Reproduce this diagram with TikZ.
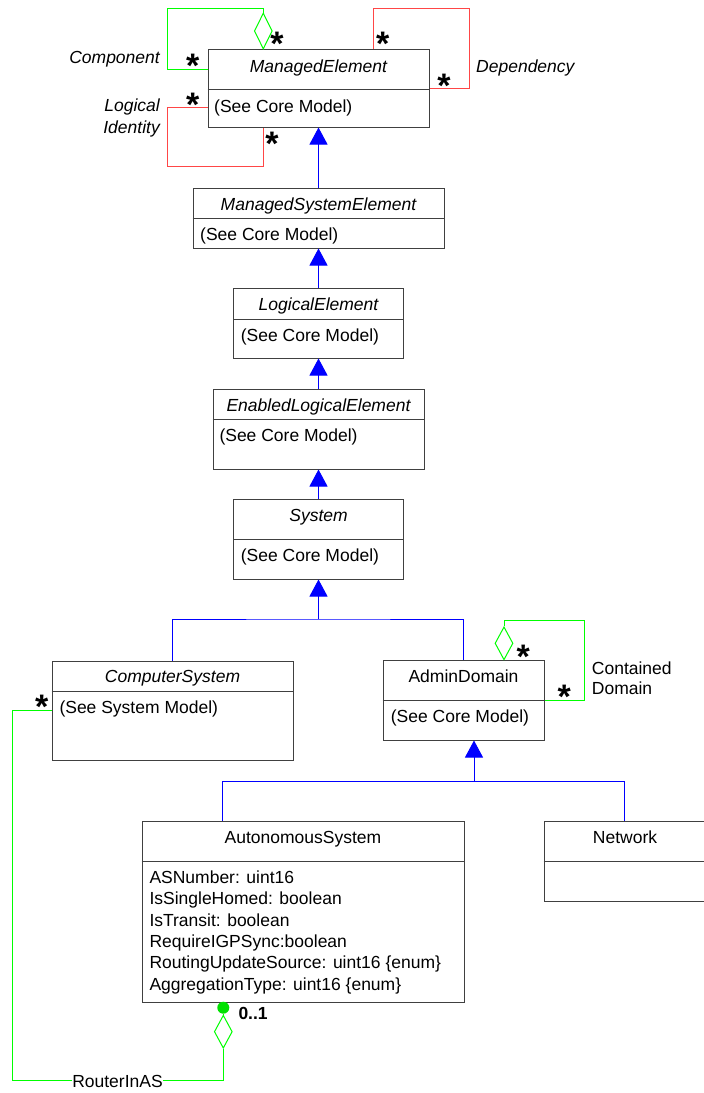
\documentclass[tikz,border=0pt]{standalone}
\usepackage{fontspec}
\setmainfont{Liberation Sans}
\usetikzlibrary{arrows.meta,shapes.geometric}
\definecolor{umlgreen}{RGB}{0,255,0}
\definecolor{umldot}{RGB}{0,225,0}
\definecolor{umlred}{RGB}{255,70,70}
\newcommand{\manystar}{\raisebox{-13.3pt}[11pt][0pt]{*}}

\begin{document}
\begin{tikzpicture}[x=1pt,y=-1pt,
  font=\fontsize{17.5}{21.3}\selectfont,
  cls/.style={draw=black!75,line width=1pt,inner sep=0pt},
  txt/.style={inner sep=0pt,anchor=base},
  attr/.style={inner sep=0pt,anchor=base west},
  mult/.style={inner sep=0pt,anchor=center,font=\bfseries\fontsize{34}{34}\selectfont},
  gen/.style={draw=blue,line width=1pt},
  genarrow/.style={gen,-{Triangle[width=18pt,length=17pt]},fill=blue},
  agg/.style={diamond,draw=umlgreen,line width=1pt,minimum width=18pt,inner sep=0pt},
  dot/.style={circle,fill=umldot,inner sep=0pt,minimum size=12pt},
  compline/.style={draw=umlgreen,line width=1pt},
  depline/.style={draw=umlred,line width=1pt}]
\useasboundingbox (0,0) rectangle (704,1093);

\node[cls,minimum width=221pt,minimum height=78pt] (me) at (318.5,88) {};
\draw[cls] (me.west |- 0,89) -- (me.east |- 0,89);
\node[txt] (me-name) at (318.5,72.7) {\itshape ManagedElement};
\node[attr] (me-attr) at (214,112) {(See Core Model)};

\node[cls,minimum width=251pt,minimum height=60pt] (mse) at (318.5,218) {};
\draw[cls] (mse.west |- 0,218) -- (mse.east |- 0,218);
\node[txt] (mse-name) at (318.5,210) {\itshape ManagedSystemElement};
\node[attr] (mse-attr) at (200,240) {(See Core Model)};

\node[cls,minimum width=170pt,minimum height=70pt] (le) at (318.5,323) {};
\draw[cls] (le.west |- 0,319) -- (le.east |- 0,319);
\node[txt] (le-name) at (318.5,310.7) {\itshape LogicalElement};
\node[attr] (le-attr) at (240.7,341) {(See Core Model)};

\node[cls,minimum width=211pt,minimum height=80pt] (ele) at (318.5,429) {};
\draw[cls] (ele.west |- 0,419) -- (ele.east |- 0,419);
\node[txt] (ele-name) at (318.5,411.7) {\itshape EnabledLogicalElement};
\node[attr] (ele-attr) at (219.3,441.7) {(See Core Model)};

\node[cls,minimum width=170pt,minimum height=80pt] (sys) at (318.5,539) {};
\draw[cls] (sys.west |- 0,539) -- (sys.east |- 0,539);
\node[txt] (sys-name) at (318.5,521.7) {\itshape System};
\node[attr] (sys-attr) at (240.7,561.7) {(See Core Model)};

\node[cls,minimum width=241pt,minimum height=99pt] (cs) at (172.5,710.5) {};
\draw[cls] (cs.west |- 0,691) -- (cs.east |- 0,691);
\node[txt] (cs-name) at (172.5,682.7) {\itshape ComputerSystem};
\node[attr] (cs-attr) at (59.3,713.3) {(See System Model)};

\node[cls,minimum width=161pt,minimum height=80pt] (ad) at (463.5,700) {};
\draw[cls] (ad.west |- 0,700) -- (ad.east |- 0,700);
\node[txt] (ad-name) at (463.5,682.7) {AdminDomain};
\node[attr] (ad-attr) at (390.7,722.3) {(See Core Model)};

\node[cls,minimum width=322pt,minimum height=181pt] (as) at (303,911.5) {};
\draw[cls] (as.west |- 0,861) -- (as.east |- 0,861);
\node[txt] (as-name) at (303,843.3) {AutonomousSystem};
\node[attr] (as-a1) at (149.3,883.3) {ASNumber: uint16};
\node[attr] (as-a2) at (149.3,904.6) {IsSingleHomed: boolean};
\node[attr] (as-a3) at (149.3,926) {IsTransit: boolean};
\node[attr] (as-a4) at (149.3,947.3) {RequireIGPSync:boolean};
\node[attr] (as-a5) at (149.3,968.6) {RoutingUpdateSource: uint16 \{enum\}};
\node[attr] (as-a6) at (149.3,990) {AggregationType: uint16 \{enum\}};

\node[cls,minimum width=164pt,minimum height=80pt] (net) at (626,861) {};
\draw[cls] (net.west |- 0,861) -- (net.east |- 0,861);
\node[txt] (net-name) at (625,843.3) {Network};

\draw[genarrow] (mse) -- (me);
\draw[genarrow] (le) -- (mse);
\draw[genarrow] (ele) -- (le);
\draw[genarrow] (sys) -- (ele);
\coordinate (sys-fork) at (318.5,619);
\draw[genarrow] (sys-fork) -- (sys);
\draw[gen] (cs.north) |- (sys-fork) -| (ad.north);
\coordinate (ad-fork) at (474,781);
\draw[genarrow] (ad-fork) -- (ad-fork |- ad.south);
\draw[gen] (222.7,0 |- as.north) |- (ad-fork) -| (624.7,0 |- net.north);

\node[agg,minimum height=36pt] (me-agg) at (263.3,31) {};
\draw[compline] (me.west |- 0,69) -| (167.3,8.3) -| (me-agg.north);
\draw[depline] (373.3,0 |- me.north) |- (469.3,8.3) |- (me.east |- 0,88.3);
\draw[depline] (me.west |- 0,107.7) -| (167.3,166.7) -| (263.3,0 |- me.south);
\node[txt,anchor=base east] (comp-lbl) at (160,63.3) {\itshape Component};
\node[txt,anchor=base west] (dep-lbl) at (476,72.7) {\itshape Dependency};
\node[txt,anchor=base east] (li-lbl1) at (160,111.7) {\itshape Logical};
\node[txt,anchor=base east] (li-lbl2) at (160,133.3) {\itshape Identity};
\node[mult] (m1) at (192.7,59) {\manystar};
\node[mult] (m2) at (277,37) {\manystar};
\node[mult] (m3) at (382.7,36.7) {\manystar};
\node[mult] (m4) at (444,78.3) {\manystar};
\node[mult] (m5) at (192.7,98) {\manystar};
\node[mult] (m6) at (272,137) {\manystar};

\node[agg,minimum height=33pt] (ad-agg) at (504,643.3) {};
\draw[compline] (ad-agg.north) |- (584.3,620) |- (ad.east |- 0,700);
\node[txt,anchor=base west] (cd-lbl1) at (591.7,674) {Contained};
\node[txt,anchor=base west] (cd-lbl2) at (591.7,694.3) {Domain};
\node[mult] (m7) at (523.3,650) {\manystar};
\node[mult] (m8) at (564.3,689.3) {\manystar};

\node[dot] (as-dot) at (223.3,1007.7) {};
\node[agg,minimum height=33pt] (as-agg) at (223.3,1031.7) {};
\node[txt] (router) at (117.5,1087) {RouterInAS};
\draw[compline] (cs.west |- 0,710.3) -| (12,0 |- router.west) -- (router.west);
\draw[compline] (router.east) -| (as-agg.south);
\draw[compline] (as-agg.north) -- (as-dot);
\node[mult] (m9) at (41.7,700) {\manystar};
\node[txt,anchor=base west] (as-mult) at (238.3,1019.3) {\bfseries 0..1};

\end{tikzpicture}
\end{document}
